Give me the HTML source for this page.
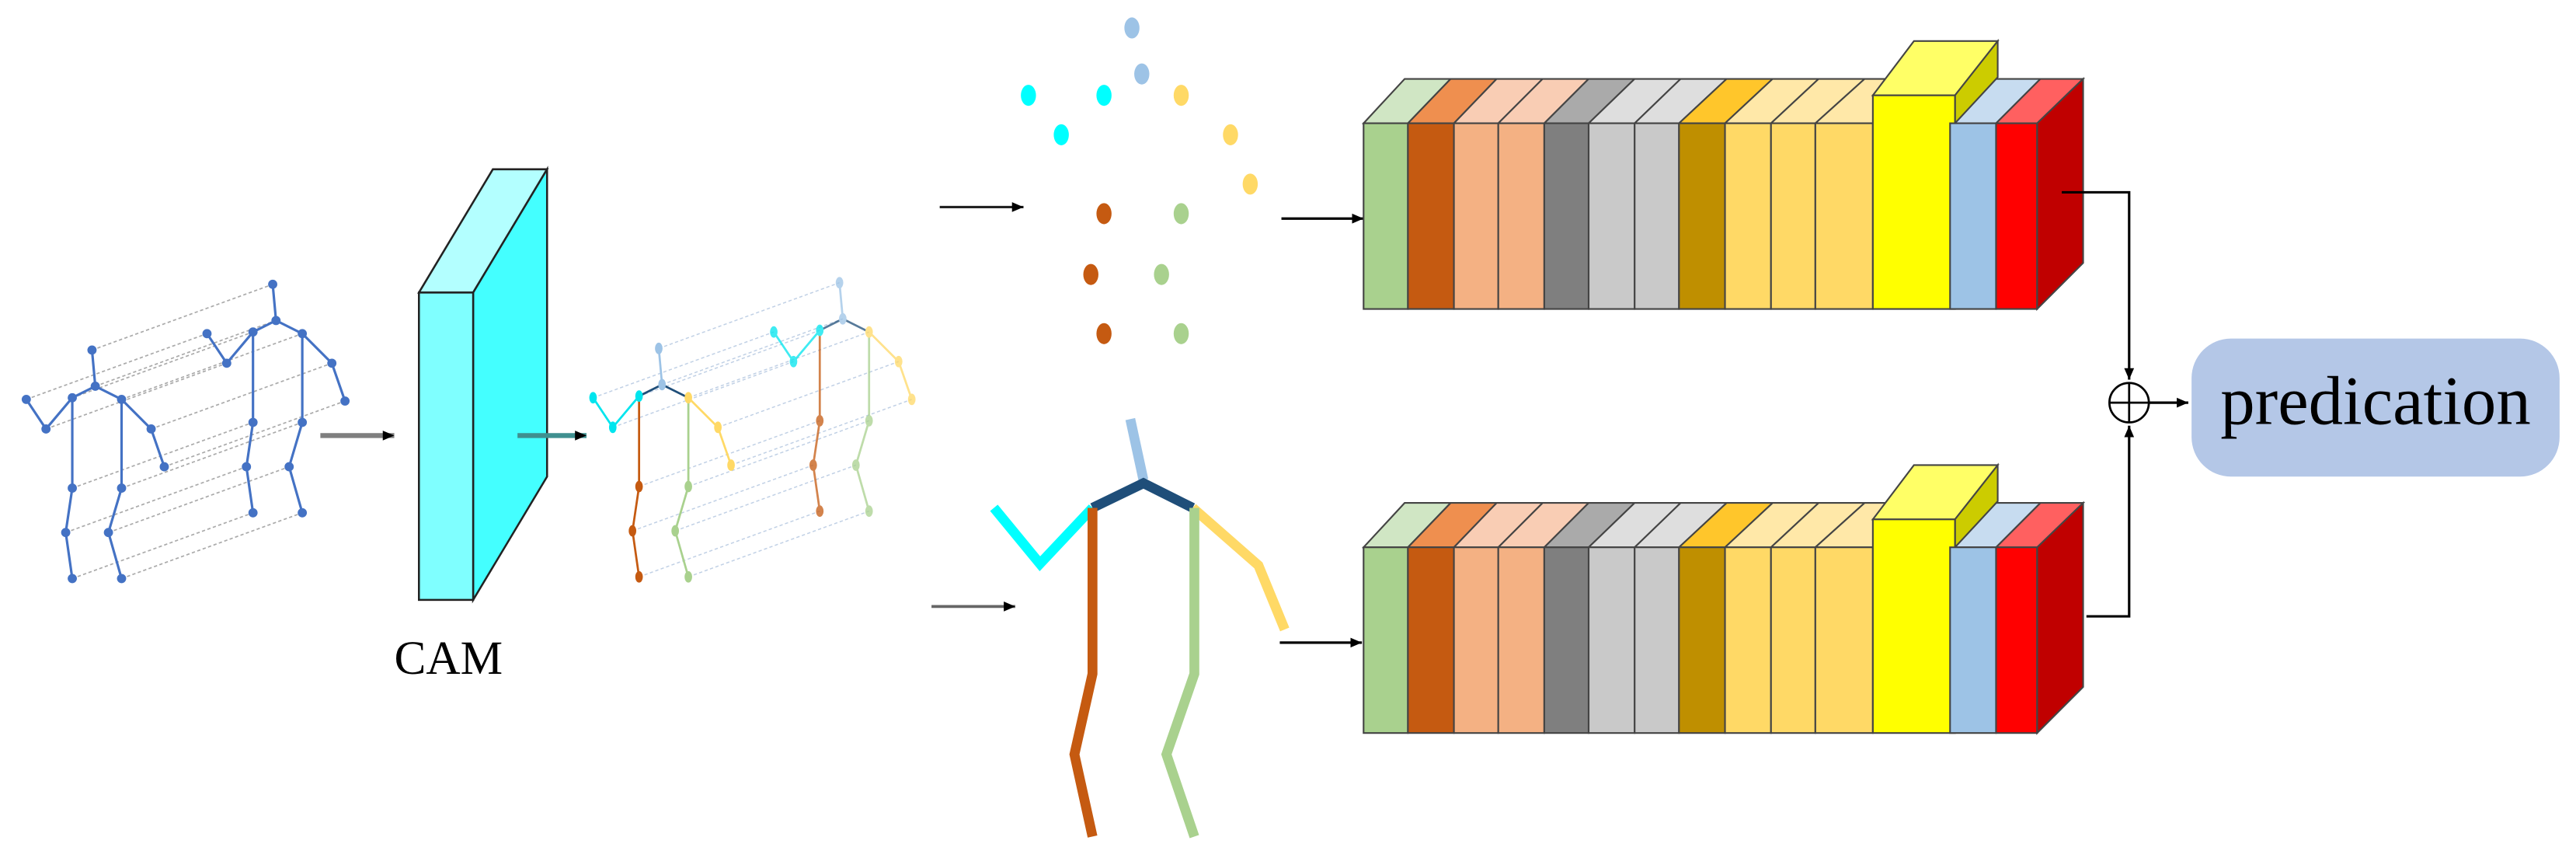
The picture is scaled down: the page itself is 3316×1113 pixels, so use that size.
<!DOCTYPE html>
<html><head><meta charset="utf-8"><style>html,body{margin:0;padding:0;background:#fff}svg{display:block}</style></head>
<body>
<svg width="3316" height="1113" viewBox="0 0 1568 526.3" preserveAspectRatio="none" xmlns="http://www.w3.org/2000/svg">
<defs>
<marker id="ah" markerWidth="8" markerHeight="8" refX="7" refY="4" orient="auto" markerUnits="userSpaceOnUse"><path d="M0,1 L7,4 L0,7 z" fill="#000"/></marker>
<g id="skel" stroke-width="1.5">
 <path d="M56,213 L58,235 M44,242 L58,235 L74,243 M44,242 L28,261 L16,243 M74,243 L92,261 L100,284 M44,242 L44,297 L40,324 L44,352 M74,243 L74,297 L66,324 L74,352" fill="none"/>
</g>
<g id="joints">
 <circle cx="56" cy="213" r="2.3"/><circle cx="58" cy="235" r="2.3"/><circle cx="44" cy="242" r="2.3"/><circle cx="74" cy="243" r="2.3"/>
 <circle cx="28" cy="261" r="2.3"/><circle cx="16" cy="243" r="2.3"/><circle cx="92" cy="261" r="2.3"/><circle cx="100" cy="284" r="2.3"/>
 <circle cx="44" cy="297" r="2.3"/><circle cx="74" cy="297" r="2.3"/><circle cx="40" cy="324" r="2.3"/><circle cx="66" cy="324" r="2.3"/>
 <circle cx="44" cy="352" r="2.3"/><circle cx="74" cy="352" r="2.3"/>
</g>
<g id="dash" stroke="#aaa" stroke-width="0.8" stroke-dasharray="2,1.5" fill="none">
 <path d="M56,213 l110,-40 M58,235 l110,-40 M44,242 l110,-40 M74,243 l110,-40 M28,261 l110,-40 M16,243 l110,-40 M92,261 l110,-40 M100,284 l110,-40 M44,297 l110,-40 M74,297 l110,-40 M40,324 l110,-40 M66,324 l110,-40 M44,352 l110,-40 M74,352 l110,-40"/>
</g>
<g id="cskel" fill="none" stroke-width="1.3">
 <path d="M56,213 L58,235" stroke="#9dc3e6"/>
 <path d="M44,242 L58,235 L74,243" stroke="#1f4e79"/>
 <path d="M44,242 L28,261 L16,243" stroke="#00e5ee"/>
 <path d="M74,243 L92,261 L100,284" stroke="#ffd966"/>
 <path d="M44,242 L44,297 L40,324 L44,352" stroke="#c55a11"/>
 <path d="M74,243 L74,297 L66,324 L74,352" stroke="#a9d18e"/>
 <g stroke="none">
 <ellipse cx="56" cy="213" rx="2.3" ry="3.5" fill="#9dc3e6"/><ellipse cx="58" cy="235" rx="2.3" ry="3.5" fill="#9dc3e6"/>
 <ellipse cx="44" cy="242" rx="2.3" ry="3.5" fill="#00e5ee"/><ellipse cx="74" cy="243" rx="2.3" ry="3.5" fill="#ffd966"/>
 <ellipse cx="28" cy="261" rx="2.3" ry="3.5" fill="#00e5ee"/><ellipse cx="16" cy="243" rx="2.3" ry="3.5" fill="#00e5ee"/>
 <ellipse cx="92" cy="261" rx="2.3" ry="3.5" fill="#ffd966"/><ellipse cx="100" cy="284" rx="2.3" ry="3.5" fill="#ffd966"/>
 <ellipse cx="44" cy="297" rx="2.3" ry="3.5" fill="#c55a11"/><ellipse cx="74" cy="297" rx="2.3" ry="3.5" fill="#a9d18e"/>
 <ellipse cx="40" cy="324" rx="2.3" ry="3.5" fill="#c55a11"/><ellipse cx="66" cy="324" rx="2.3" ry="3.5" fill="#a9d18e"/>
 <ellipse cx="44" cy="352" rx="2.3" ry="3.5" fill="#c55a11"/><ellipse cx="74" cy="352" rx="2.3" ry="3.5" fill="#a9d18e"/>
 </g>
</g>
<g id="block" stroke="#444" stroke-width="1">
 <path d="M830,75 l25,-27 h28 l-26,27z" fill="#d0e6c4"/>
 <path d="M857,75 l26,-27 h28 l-26,27z" fill="#ef8f4f"/>
 <path d="M885,75 l26,-27 h28 l-27,27z" fill="#f9cdb4"/>
 <path d="M912,75 l27,-27 h28 l-27,27z" fill="#f9cdb4"/>
 <path d="M940,75 l27,-27 h28 l-28,27z" fill="#aaaaaa"/>
 <path d="M967,75 l28,-27 h28 l-28,27z" fill="#dedede"/>
 <path d="M995,75 l28,-27 h28 l-29,27z" fill="#dedede"/>
 <path d="M1022,75 l29,-27 h28 l-29,27z" fill="#ffc62b"/>
 <path d="M1050,75 l29,-27 h28 l-29,27z" fill="#ffe8a8"/>
 <path d="M1078,75 l29,-27 h28 l-30,27z" fill="#ffe8a8"/>
 <path d="M1105,75 l30,-27 h28 l-23,27z" fill="#ffe8a8"/>
 <path d="M1185,75 l27,-27 h30 l-27,27z" fill="#c7dcf0"/>
 <path d="M1215,75 l27,-27 h26 l-28,27z" fill="#ff6060"/>
 <rect x="830" y="75" width="27" height="113" fill="#a9d18e"/>
 <rect x="857" y="75" width="28" height="113" fill="#c55a11"/>
 <rect x="885" y="75" width="27" height="113" fill="#f4b183"/>
 <rect x="912" y="75" width="28" height="113" fill="#f4b183"/>
 <rect x="940" y="75" width="27" height="113" fill="#7f7f7f"/>
 <rect x="967" y="75" width="28" height="113" fill="#c9c9c9"/>
 <rect x="995" y="75" width="27" height="113" fill="#c9c9c9"/>
 <rect x="1022" y="75" width="28" height="113" fill="#bf8f00"/>
 <rect x="1050" y="75" width="28" height="113" fill="#ffd966"/>
 <rect x="1078" y="75" width="27" height="113" fill="#ffd966"/>
 <rect x="1105" y="75" width="35" height="113" fill="#ffd966"/>
 <path d="M1140,58 l25,-33 h51 l-26,33z" fill="#ffff66"/>
 <path d="M1190,58 l26,-33 v22 l-26,28z" fill="#cccc00"/>
 <rect x="1140" y="58" width="50" height="130" fill="#ffff00"/>
 <rect x="1187" y="75" width="28" height="113" fill="#9dc3e6"/>
 <rect x="1215" y="75" width="25" height="113" fill="#ff0000"/>
 <path d="M1240,75 l28,-27 v112 l-28,28z" fill="#c00000"/>
</g>
</defs>

<use href="#dash"/>
<g stroke="#4472c4" fill="#4472c4"><use href="#skel" transform="translate(110,-40)"/><use href="#joints" transform="translate(110,-40)"/></g>
<g stroke="#4472c4" fill="#4472c4"><use href="#skel"/><use href="#joints"/></g>

<line x1="195" y1="265" x2="240" y2="265" stroke="#7f7f7f" stroke-width="3" marker-end="url(#ah)"/>
<path d="M255,178 L300,103 H333 L288,178 Z" fill="#b3ffff" stroke="#222" stroke-width="1.2"/>
<path d="M288,178 L333,103 V290 L288,365 Z" fill="#44ffff" stroke="#222" stroke-width="1.2"/>
<rect x="255" y="178" width="33" height="187" fill="#7fffff" stroke="#222" stroke-width="1.2"/>
<line x1="315" y1="265" x2="357" y2="265" stroke="#3f8f8f" stroke-width="3" marker-end="url(#ah)"/>
<text x="273" y="410" font-family="Liberation Serif, serif" font-size="29" text-anchor="middle">CAM</text>

<g transform="translate(345,-1)">
 <g stroke="#b0c4de" stroke-width="0.7" stroke-dasharray="2,1.5" fill="none" opacity="0.8">
 <path d="M56,213 l110,-40 M58,235 l110,-40 M44,242 l110,-40 M74,243 l110,-40 M28,261 l110,-40 M16,243 l110,-40 M92,261 l110,-40 M100,284 l110,-40 M44,297 l110,-40 M74,297 l110,-40 M40,324 l110,-40 M66,324 l110,-40 M44,352 l110,-40 M74,352 l110,-40"/>
 </g>
 <g transform="translate(110,-40)" opacity="0.75"><use href="#cskel"/></g>
 <use href="#cskel"/>
</g>

<g>
 <ellipse cx="689" cy="17" rx="4.6" ry="6.4" fill="#9dc3e6"/>
 <ellipse cx="695" cy="45" rx="4.6" ry="6.4" fill="#9dc3e6"/>
 <ellipse cx="626" cy="58" rx="4.6" ry="6.4" fill="#00ffff"/>
 <ellipse cx="672" cy="58" rx="4.6" ry="6.4" fill="#00ffff"/>
 <ellipse cx="719" cy="58" rx="4.6" ry="6.4" fill="#ffd966"/>
 <ellipse cx="646" cy="82" rx="4.6" ry="6.4" fill="#00ffff"/>
 <ellipse cx="749" cy="82" rx="4.6" ry="6.4" fill="#ffd966"/>
 <ellipse cx="761" cy="112" rx="4.6" ry="6.4" fill="#ffd966"/>
 <ellipse cx="672" cy="130" rx="4.6" ry="6.4" fill="#c55a11"/>
 <ellipse cx="719" cy="130" rx="4.6" ry="6.4" fill="#a9d18e"/>
 <ellipse cx="664" cy="167" rx="4.6" ry="6.4" fill="#c55a11"/>
 <ellipse cx="707" cy="167" rx="4.6" ry="6.4" fill="#a9d18e"/>
 <ellipse cx="672" cy="203" rx="4.6" ry="6.4" fill="#c55a11"/>
 <ellipse cx="719" cy="203" rx="4.6" ry="6.4" fill="#a9d18e"/>
</g>
<line x1="572" y1="126" x2="623" y2="126" stroke="#222" stroke-width="1.5" marker-end="url(#ah)"/>
<line x1="780" y1="133" x2="830" y2="133" stroke="#000" stroke-width="1.5" marker-end="url(#ah)"/>

<g fill="none" stroke-width="6" stroke-linejoin="miter">
 <path d="M688,255 L696,292" stroke="#9dc3e6"/>
 <path d="M665,309 L696,294 L726,309" stroke="#1f4e79"/>
 <path d="M665,309 L633,343 L605,309" stroke="#00ffff"/>
 <path d="M726,309 L766,344 L782,383" stroke="#ffd966"/>
 <path d="M727,309 L727,410 L710,459 L727,509" stroke="#a9d18e"/>
 <path d="M665,309 L665,410 L654,459 L665,509" stroke="#c55a11"/>
</g>
<line x1="567" y1="369" x2="618" y2="369" stroke="#666" stroke-width="1.8" marker-end="url(#ah)"/>
<line x1="779" y1="391" x2="829" y2="391" stroke="#000" stroke-width="1.5" marker-end="url(#ah)"/>

<use href="#block"/>
<use href="#block" transform="translate(0,258)"/>

<path d="M1255,117 H1296 V231" fill="none" stroke="#000" stroke-width="1.5" marker-end="url(#ah)"/>
<path d="M1270,375 H1296 V259" fill="none" stroke="#000" stroke-width="1.5" marker-end="url(#ah)"/>
<circle cx="1296" cy="245" r="12" fill="#fff" stroke="#000" stroke-width="1.3"/>
<path d="M1284,245 H1308 M1296,233 V257" stroke="#000" stroke-width="1.3"/>
<line x1="1308" y1="245" x2="1332" y2="245" stroke="#000" stroke-width="1.5" marker-end="url(#ah)"/>
<rect x="1334" y="206" width="224" height="84" rx="24" fill="#b4c7e7"/>
<text x="1446" y="258" font-family="Liberation Serif, serif" font-size="42" text-anchor="middle">predication</text>
</svg>
</body></html>
